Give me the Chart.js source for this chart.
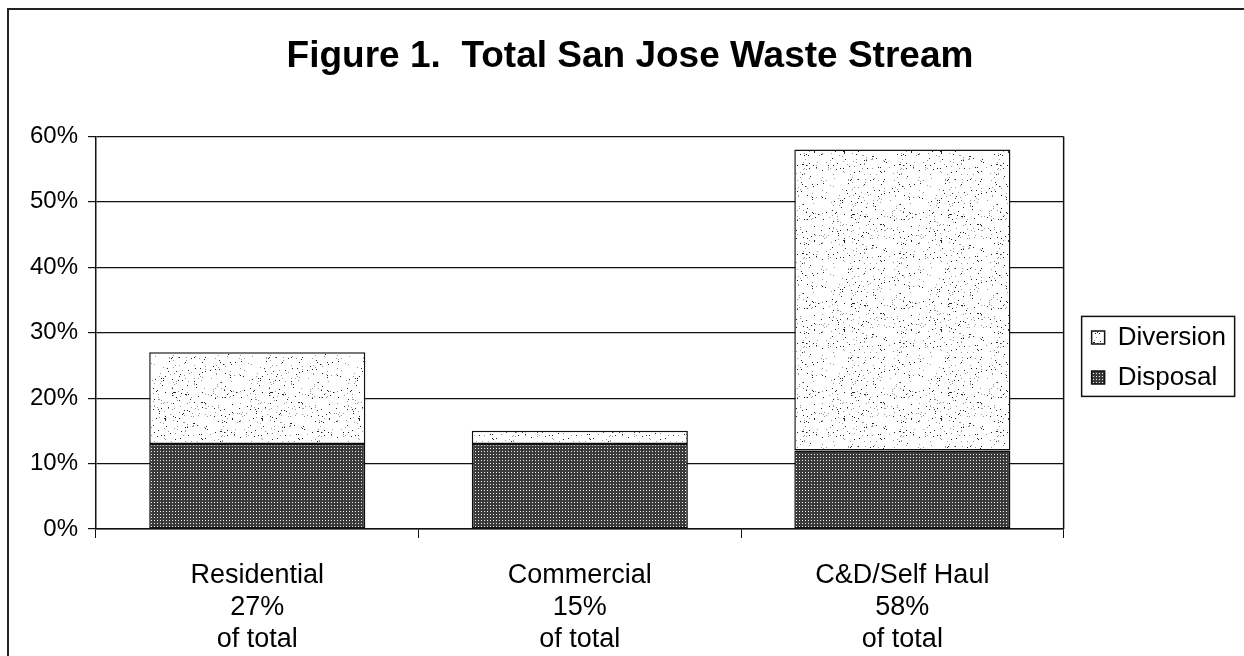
<!DOCTYPE html>
<html>
<head>
<meta charset="utf-8">
<script src="https://cdn.jsdelivr.net/npm/chart.js@4"></script>
<style>
  html, body { margin: 0; padding: 0; background: #fff; overflow: hidden; }
  #wrap { position: relative; width: 1244px; height: 656px; }
  #marco { position: absolute; left: 7px; top: 8px; width: 1300px; height: 700px; border: 2px solid #222; pointer-events: none; }
</style>
</head>
<body>
<div id="wrap">
  <canvas id="residuos" width="1244" height="656"></canvas>
  <div id="marco"></div>
</div>
<script>
// Categorias y valores (% del flujo total)
const categorias = ['Residential', 'Commercial', 'C&D/Self Haul'];
const porcentajes = ['27%', '15%', '58%'];
const disposal = [13, 13, 12];
const diversion = [14, 2, 46];
const yMax = 60;
const yPaso = 10;

// Etiquetas de tres lineas para el eje X
const etiquetas = categorias.map((c, i) => [c, porcentajes[i], 'of total']);

// Trama oscura de puntos (Disposal)
function tramaOscura() {
  const c = document.createElement('canvas');
  c.width = 3; c.height = 3;
  const g = c.getContext('2d');
  g.fillStyle = '#3a3a3a';
  g.fillRect(0, 0, 3, 3);
  g.fillStyle = '#eeeeee';
  g.fillRect(1, 1, 1, 1);
  return g.createPattern(c, 'repeat');
}

// Trama clara moteada (Diversion)
function tramaClara() {
  const c = document.createElement('canvas');
  c.width = 97; c.height = 89;
  const g = c.getContext('2d');
  g.fillStyle = '#fff';
  g.fillRect(0, 0, 97, 89);
  let s = 12345;
  const rnd = () => { s = (s * 1103515245 + 12345) % 2147483648; return s / 2147483648; };
  for (let i = 0; i < 380; i++) {
    const x = Math.floor(rnd() * 97), y = Math.floor(rnd() * 89);
    g.fillStyle = rnd() < 0.45 ? '#222' : '#999';
    g.fillRect(x, y, 1, 1);
  }
  return g.createPattern(c, 'repeat');
}

const marcoLeyenda = {
  id: 'marcoLeyenda',
  afterLayout(chart) {
    // titulo algo desplazado a la derecha, como en el original
    const t = chart.titleBlock;
    t.left += 15; t.right += 15;
    const lg = chart.legend;
    const dx = chart.chartArea.right + 14 - lg.left;
    lg.left += dx; lg.right += dx;
    const nuevoTop = chart.chartArea.top + 174;
    lg.bottom += nuevoTop - lg.top;
    lg.top = nuevoTop;
  },
  afterDraw(chart) {
    const ctx = chart.ctx;
    const a = chart.chartArea;
    ctx.save();
    ctx.strokeStyle = '#111';
    ctx.lineWidth = 1.5;
    ctx.beginPath();
    ctx.moveTo(a.right, a.top);
    ctx.lineTo(a.right, a.bottom);
    ctx.stroke();
    const hb = chart.legend.legendHitBoxes;
    if (hb.length) {
      const x0 = hb[0].left - 10;
      const y0 = hb[0].top - 8;
      const ult = hb[hb.length - 1];
      const y1 = ult.top + ult.height + 6;
      ctx.strokeRect(x0, y0, 153, y1 - y0);
    }
    ctx.restore();
  }
};

const data = {
  labels: etiquetas,
  datasets: [
    {
      label: 'Disposal',
      data: disposal,
      backgroundColor: tramaOscura(),
      borderColor: '#111',
      borderWidth: 1.5,
      borderSkipped: false
    },
    {
      label: 'Diversion',
      data: diversion,
      backgroundColor: tramaClara(),
      borderColor: '#111',
      borderWidth: 1.5,
      borderSkipped: false
    }
  ]
};

new Chart(document.querySelector('#residuos'), {
  type: 'bar',
  data,
  plugins: [marcoLeyenda],
  options: {
    responsive: false,
    animation: false,
    layout: { padding: { left: 8, right: 22, top: 0, bottom: 3 } },
    datasets: { bar: { categoryPercentage: 1, barPercentage: 0.67 } },
    plugins: {
      title: {
        display: true,
        text: 'Figure 1.  Total San Jose Waste Stream',
        color: '#000',
        font: { family: '"Liberation Sans", Arial, sans-serif', size: 37, weight: 'bold' },
        padding: { top: 35, bottom: 57 }
      },
      legend: {
        position: 'right',
        align: 'start',
        reverse: true,
        labels: {
          color: '#000',
          boxWidth: 13,
          boxHeight: 13,
          padding: 14,
          font: { family: '"Liberation Sans", Arial, sans-serif', size: 26 }
        }
      },
      tooltip: { enabled: false }
    },
    scales: {
      x: {
        stacked: true,
        afterFit(scale) { scale.height = 124; },
        grid: { offset: true, drawOnChartArea: false, drawTicks: true, tickLength: 9, color: '#111' },
        border: { display: true, color: '#111', width: 1.5 },
        ticks: {
          color: '#000',
          padding: 21,
          font: { family: '"Liberation Sans", Arial, sans-serif', size: 27, lineHeight: 1.2 }
        }
      },
      y: {
        stacked: true,
        min: 0,
        max: yMax,
        afterFit(scale) { scale.width = 88; },
        grid: { color: '#111', lineWidth: 1.2, tickLength: 8 },
        border: { display: true, color: '#111', width: 1.5 },
        ticks: {
          stepSize: yPaso,
          color: '#000',
          padding: 10,
          font: { family: '"Liberation Sans", Arial, sans-serif', size: 24 },
          callback: v => v + '%'
        }
      }
    }
  }
});
</script>
</body>
</html>
